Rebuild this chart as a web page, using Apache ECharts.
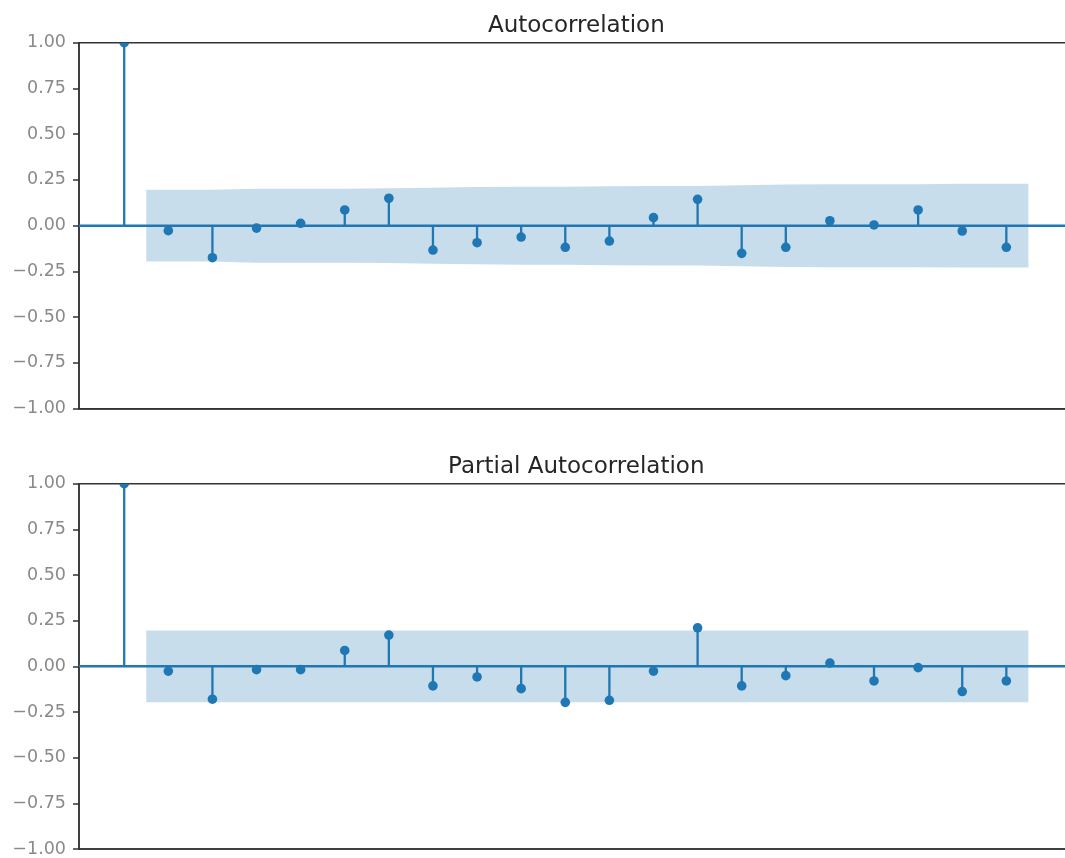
<!DOCTYPE html>
<html>
<head>
<meta charset="utf-8">
<title>Autocorrelation / Partial Autocorrelation</title>
<script src="https://cdn.jsdelivr.net/npm/echarts@6/dist/echarts.min.js"></script>
<style>
  html, body { margin: 0; padding: 0; background: #ffffff; overflow: hidden; }
  /* the axes run slightly past the right edge of the window */
  #chart { width: 1074px; height: 858px; }
</style>
</head>
<body>
<div id="chart"></div>
<script>
// Lags shown on both correlograms
const lags = [0, 1, 2, 3, 4, 5, 6, 7, 8, 9, 10, 11, 12, 13, 14, 15, 16, 17, 18, 19, 20];

// Sample autocorrelation per lag
const acfValues = [1.00, -0.027, -0.175, -0.013, 0.013, 0.086, 0.150, -0.133, -0.093, -0.062,
  -0.118, -0.084, 0.044, 0.144, -0.151, -0.118, 0.027, 0.004, 0.086, -0.029, -0.118];

// Sample partial autocorrelation per lag
const pacfValues = [1.00, -0.026, -0.180, -0.018, -0.018, 0.087, 0.171, -0.107, -0.058, -0.122,
  -0.197, -0.186, -0.026, 0.211, -0.107, -0.051, 0.018, -0.080, -0.007, -0.138, -0.080];

// Confidence band: x positions (lags 1..20, outer ends widened by half a lag)
const bandLags = [0.5, 2, 3, 4, 5, 6, 7, 8, 9, 10, 11, 12, 13, 14, 15, 16, 17, 18, 19, 20.5];

// Half-width of the 95% band for the ACF (grows with lag)
const acfBand = [0.196, 0.196, 0.202, 0.202, 0.202, 0.204, 0.208, 0.211, 0.213, 0.213,
  0.216, 0.217, 0.217, 0.221, 0.225, 0.227, 0.227, 0.227, 0.229, 0.229];

// Half-width of the 95% band for the PACF (constant)
const pacfBand = [0.196, 0.196, 0.196, 0.196, 0.196, 0.196, 0.196, 0.196, 0.196, 0.196,
  0.196, 0.196, 0.196, 0.196, 0.196, 0.196, 0.196, 0.196, 0.196, 0.196];

// Y tick labels
const yTicks = [-1.00, -0.75, -0.50, -0.25, 0.00, 0.25, 0.50, 0.75, 1.00];

const titles = ['Autocorrelation', 'Partial Autocorrelation'];

const BLUE = '#1f77b4';
const BAND = 'rgba(31,119,180,0.25)';
const SPINE = '#333333';
const X_MIN = -1.025, X_MAX = 21.525;

function fmtTick(v) {
  const r = Math.round(v * 100) / 100;
  if (Math.abs(r) < 1e-9) return '0.00';
  return (r < 0 ? '\u2212' : '') + Math.abs(r).toFixed(2);
}

const chart = echarts.init(document.getElementById('chart'), null, { renderer: 'canvas' });

const grids = [
  { left: 79, right: 0.4, top: 42.7, height: 366 },
  { left: 79, right: 0.4, top: 483.7, height: 366.3 }
];

const xAxes = grids.map((g, i) => ({
  type: 'value', gridIndex: i, min: X_MIN, max: X_MAX,
  axisLine: { show: true, onZero: false, lineStyle: { color: SPINE, width: 1.5 } },
  axisTick: { show: false }, axisLabel: { show: false }, splitLine: { show: false }
}));

const yAxes = grids.map((g, i) => ({
  type: 'value', gridIndex: i, position: 'left',
  min: yTicks[0], max: yTicks[yTicks.length - 1], interval: 0.25,
  axisLine: { show: true, onZero: false, lineStyle: { color: SPINE, width: 1.5 } },
  axisTick: { show: true, inside: false, length: 6, lineStyle: { color: SPINE, width: 1.5 } },
  axisLabel: { margin: 13, fontSize: 17.5, color: '#8a8a8a', fontFamily: 'DejaVu Sans', formatter: fmtTick },
  splitLine: { show: false }
}));

function zeroLine(i) {
  return {
    type: 'line', xAxisIndex: i, yAxisIndex: i,
    data: [[X_MIN, 0], [X_MAX, 0]],
    symbol: 'none', silent: true, z: 2,
    lineStyle: { color: BLUE, width: 2.5 }
  };
}

function stems(i, values) {
  return {
    type: 'custom', xAxisIndex: i, yAxisIndex: i, z: 3, clip: true,
    data: lags.map((l, k) => [l, values[k]]),
    renderItem: function (params, api) {
      const base = api.coord([api.value(0), 0]);
      const tip = api.coord([api.value(0), api.value(1)]);
      return {
        type: 'group',
        children: [
          { type: 'line', shape: { x1: base[0], y1: base[1], x2: tip[0], y2: tip[1] },
            style: { stroke: BLUE, lineWidth: 2.3 } },
          { type: 'circle', shape: { cx: tip[0], cy: tip[1], r: 4.8 },
            style: { fill: BLUE } }
        ]
      };
    }
  };
}

function band(i, halfWidths) {
  return {
    type: 'custom', xAxisIndex: i, yAxisIndex: i, z: 4, silent: true,
    data: [0],
    renderItem: function (params, api) {
      const upper = bandLags.map((x, k) => api.coord([x, halfWidths[k]]));
      const lower = bandLags.map((x, k) => api.coord([x, -halfWidths[k]])).reverse();
      return { type: 'polygon', shape: { points: upper.concat(lower) }, style: { fill: BAND } };
    }
  };
}

const option = {
  backgroundColor: '#ffffff',
  animation: false,
  grid: grids.map(g => Object.assign({ show: true, borderColor: SPINE, borderWidth: 1.5, backgroundColor: 'transparent' }, g)),
  xAxis: xAxes,
  yAxis: yAxes,
  graphic: [
    { type: 'text', x: 576.3, y: 26, style: { text: titles[0], fontSize: 23, fontFamily: 'DejaVu Sans', fill: '#262626', textAlign: 'center', textVerticalAlign: 'middle' } },
    { type: 'text', x: 576.3, y: 467, style: { text: titles[1], fontSize: 23, fontFamily: 'DejaVu Sans', fill: '#262626', textAlign: 'center', textVerticalAlign: 'middle' } }
  ],
  series: [
    zeroLine(0), stems(0, acfValues), band(0, acfBand),
    zeroLine(1), stems(1, pacfValues), band(1, pacfBand)
  ]
};

chart.setOption(option);
</script>
</body>
</html>
